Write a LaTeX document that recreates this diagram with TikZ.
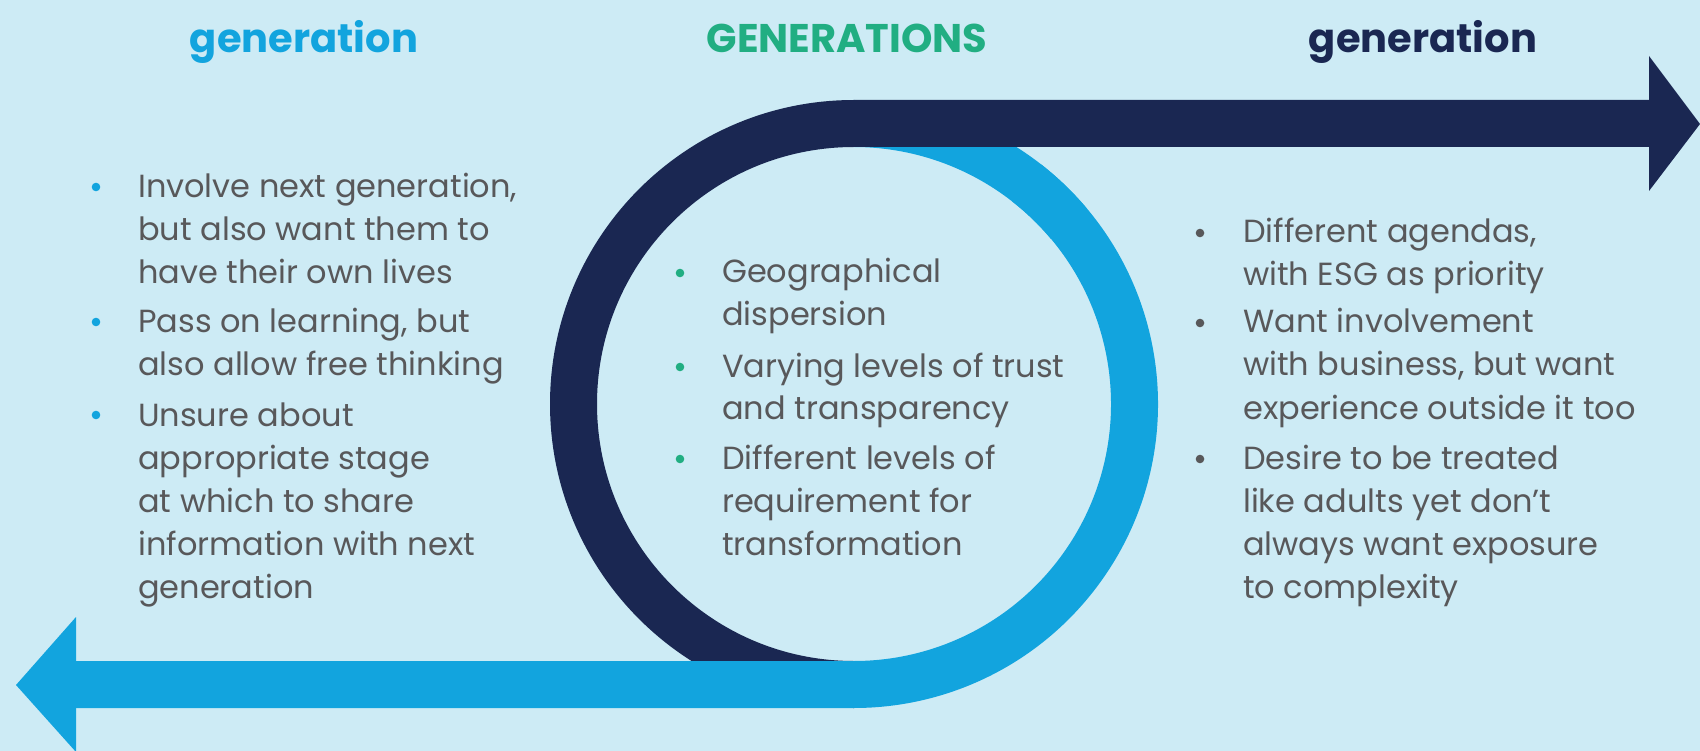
\documentclass[tikz,border=0pt]{standalone}
\usepackage{fontspec}
\setmainfont{Poppins}

\definecolor{bgblue}{HTML}{CDEBF5}
\definecolor{skyblue}{HTML}{12A4DE}
\definecolor{navy}{HTML}{1A2752}
\definecolor{leafgreen}{HTML}{21AE82}
\definecolor{textgray}{HTML}{58585A}

% a stack of lines whose reference point is the first baseline
\newcommand\lns[1]{\vtop{\baselineskip=43pt\lineskip=0pt\lineskiplimit=-1000pt
  \halign{##\hfil\cr#1\crcr}}}

\tikzset{
  heading/.style={inner sep=0pt, anchor=base, font=\fontsize{40}{46}\selectfont\bfseries},
  body/.style={inner sep=0pt, anchor=base west, text=textgray,
    font=\fontsize{32}{43}\selectfont},
  band/.style={line width=47pt, line cap=butt},
}

\begin{document}
\begin{tikzpicture}[x=1pt,y=-1pt]
\useasboundingbox (0,0) rectangle (1700,751);
\fill[bgblue] (0,0) rectangle (1700,751);

% ---- loop
\coordinate (ctr) at (854,404);
% upper part of the light-blue half, tucked under the navy band
\draw[band, skyblue] (854,123.5) arc[start angle=-90, end angle=-40, radius=280.5];
% navy band with its left half-loop
\draw[band, navy] (1650,123.5) -- (854,123.5)
  arc[start angle=-90, end angle=-270, radius=280.5];
\fill[navy] (1649,56) -- (1700,124) -- (1649,191) -- cycle;
% light-blue half-loop running into the lower band, over the navy
\draw[band, skyblue] ([shift={(-52:280.5)}]ctr)
  arc[start angle=-52, end angle=90, radius=280.5] -- (75,684.5);
\fill[skyblue] (76,617) -- (16,685) -- (76,752) -- cycle;

% ---- headings
\node[heading, text=skyblue] (hleft) at (304,53) {generation};
\node[heading, text=leafgreen] (hmid) at (847,53) {GENERATIONS};
\node[heading, text=navy] (hright) at (1423,53) {generation};

% ---- left column
\node[body] (l1) at (138,198) {\lns{Involve next generation,\cr but also want them to\cr have their own lives}};
\node[body] (l2) at (138,333) {\lns{Pass on learning, but\cr also allow free thinking}};
\node[body] (l3) at (138,426) {\lns{Unsure about\cr appropriate stage\cr at which to share\cr information with next\cr generation}};
\foreach \y in {198,333,426} \fill[skyblue] (96,\y-11) circle (4.3);

% ---- middle column
\node[body] (m1) at (722,283) {\lns{Geographical\cr dispersion}};
\node[body] (m2) at (722,377) {\lns{Varying levels of trust\cr and transparency}};
\node[body] (m3) at (722,469) {\lns{Different levels of\cr requirement for\cr transformation}};
\foreach \y in {283,377,469} \fill[leafgreen] (680,\y-10) circle (4.3);

% ---- right column
\node[body] (r1) at (1243,243) {\lns{Different agendas,\cr with ESG as priority}};
\node[body] (r2) at (1243,333) {\lns{Want involvement\cr with business, but want\cr experience outside it too}};
\node[body] (r3) at (1243,469) {\lns{Desire to be treated\cr like adults yet don’t\cr always want exposure\cr to complexity}};
\foreach \y in {243,333,469} \fill[textgray] (1200,\y-10) circle (4.3);
\end{tikzpicture}
\end{document}
